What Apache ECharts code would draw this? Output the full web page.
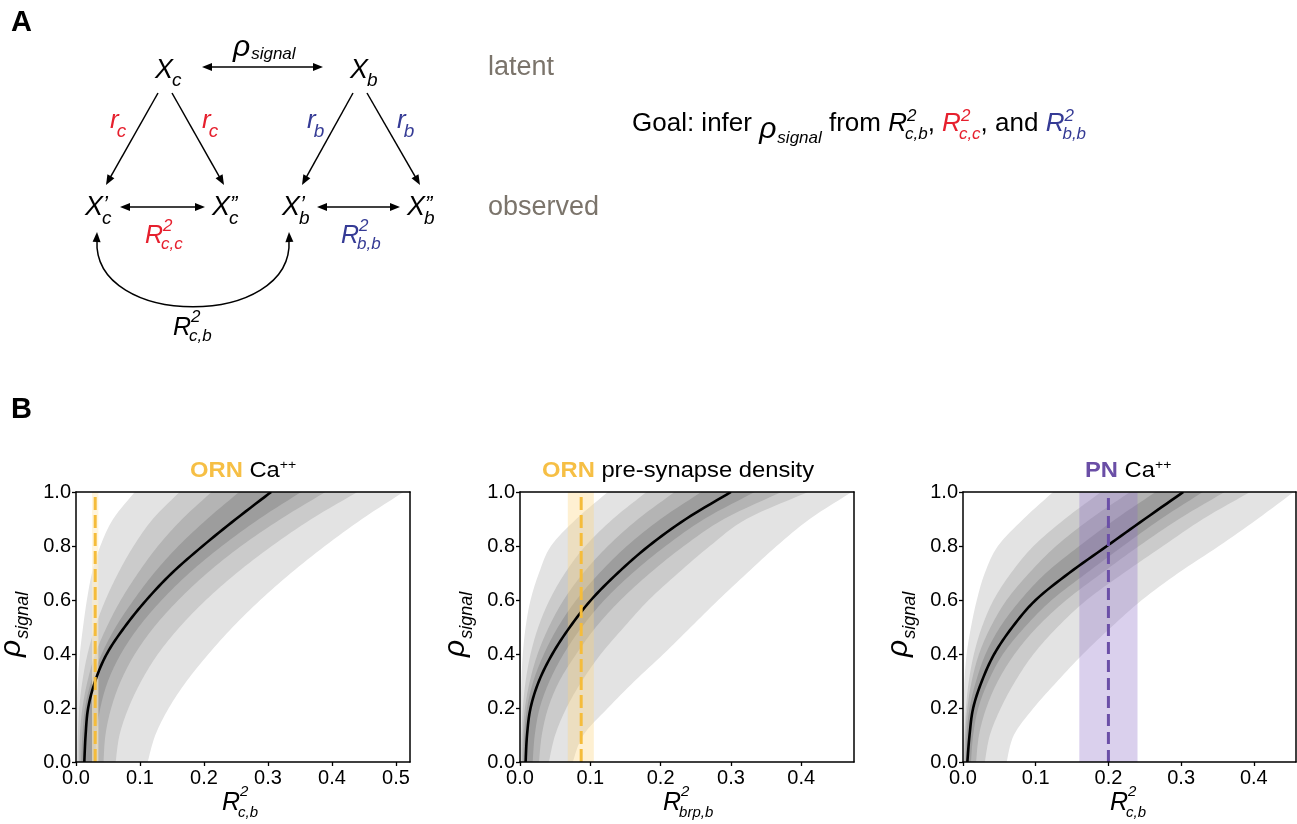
<!DOCTYPE html>
<html><head><meta charset="utf-8">
<script src="https://cdn.jsdelivr.net/npm/echarts@6/dist/echarts.min.js"></script>
<style>html,body{margin:0;padding:0;background:#fff}#c{width:1297px;height:824px}</style>
</head><body><div id="c"></div>
<script>
// ---------------- DATA ----------------
const RHO = [0, 0.1, 0.2, 0.3, 0.4, 0.5, 0.6, 0.7, 0.8, 0.9, 1.0];
const Y_TICKS = [0, 0.2, 0.4, 0.6, 0.8, 1.0];
const X_TICKS_1 = [0, 0.1, 0.2, 0.3, 0.4, 0.5];
const X_TICKS_2 = [0, 0.1, 0.2, 0.3, 0.4];
const X_TICKS_3 = [0, 0.1, 0.2, 0.3, 0.4];
const X_MAX = [0.522, 0.475, 0.458];
const TITLES_KEY = ['ORN', 'ORN', 'PN'];
const TITLES_REST = ['Ca', 'pre-synapse density', 'Ca'];
const X_SUBS = ['c,b', 'brp,b', 'c,b'];
// observed value (dashed line) and its range (shaded) per panel
const REF_VALUE = [0.030, 0.087, 0.200];
const REF_LOW = [0.025, 0.068, 0.160];
const REF_HIGH = [0.035, 0.105, 0.240];

// Panel 1: ORN Ca++  (band edges: 1 = outermost/lightest ... 4 = innermost/darkest)
const P1_L1 = [0, 0, 0.001, 0.003, 0.006, 0.011, 0.017, 0.025, 0.038, 0.058, 0.092];
const P1_L2 = [0.002, 0.003, 0.005, 0.010, 0.018, 0.030, 0.046, 0.066, 0.090, 0.120, 0.162];
const P1_L3 = [0.005, 0.006, 0.010, 0.018, 0.030, 0.048, 0.070, 0.097, 0.128, 0.166, 0.212];
const P1_L4 = [0.008, 0.010, 0.014, 0.024, 0.040, 0.062, 0.090, 0.122, 0.160, 0.205, 0.255];
const P1_MED = [0.013, 0.015, 0.019, 0.030, 0.048, 0.076, 0.110, 0.150, 0.198, 0.250, 0.305];
const P1_R4 = [0.030, 0.032, 0.038, 0.050, 0.070, 0.098, 0.134, 0.177, 0.228, 0.286, 0.352];
const P1_R3 = [0.043, 0.046, 0.055, 0.070, 0.092, 0.122, 0.160, 0.205, 0.258, 0.320, 0.390];
const P1_R2 = [0.062, 0.068, 0.082, 0.102, 0.128, 0.162, 0.203, 0.251, 0.306, 0.368, 0.440];
const P1_R1 = [0.112, 0.124, 0.145, 0.173, 0.207, 0.245, 0.288, 0.336, 0.389, 0.447, 0.512];

// Panel 2: ORN pre-synapse density
const P2_L1 = [0, 0, 0.001, 0.002, 0.004, 0.008, 0.015, 0.027, 0.044, 0.080, 0.125];
const P2_L2 = [0.001, 0.002, 0.004, 0.008, 0.015, 0.026, 0.042, 0.064, 0.093, 0.132, 0.180];
const P2_L3 = [0.003, 0.004, 0.007, 0.014, 0.025, 0.041, 0.062, 0.090, 0.125, 0.168, 0.220];
const P2_L4 = [0.005, 0.006, 0.010, 0.019, 0.034, 0.054, 0.080, 0.113, 0.152, 0.200, 0.258];
const P2_MED = [0.008, 0.010, 0.015, 0.027, 0.046, 0.071, 0.101, 0.139, 0.183, 0.236, 0.300];
const P2_R4 = [0.018, 0.021, 0.028, 0.042, 0.062, 0.088, 0.120, 0.160, 0.207, 0.262, 0.334];
const P2_R3 = [0.027, 0.031, 0.040, 0.056, 0.080, 0.108, 0.143, 0.185, 0.233, 0.290, 0.372];
const P2_R2 = [0.041, 0.050, 0.066, 0.088, 0.115, 0.148, 0.183, 0.225, 0.270, 0.322, 0.410];
const P2_R1 = [0.075, 0.090, 0.125, 0.163, 0.204, 0.243, 0.282, 0.323, 0.365, 0.412, 0.472];

// Panel 3: PN Ca++
const P3_L1 = [0, 0, 0.001, 0.002, 0.005, 0.011, 0.019, 0.030, 0.048, 0.083, 0.124];
const P3_L2 = [0.001, 0.002, 0.004, 0.008, 0.015, 0.026, 0.042, 0.066, 0.097, 0.140, 0.190];
const P3_L3 = [0.002, 0.003, 0.006, 0.012, 0.022, 0.038, 0.060, 0.091, 0.128, 0.175, 0.230];
const P3_L4 = [0.004, 0.005, 0.009, 0.018, 0.031, 0.051, 0.079, 0.114, 0.160, 0.210, 0.265];
const P3_MED = [0.006, 0.009, 0.014, 0.026, 0.043, 0.068, 0.100, 0.146, 0.198, 0.250, 0.303];
const P3_R4 = [0.011, 0.014, 0.021, 0.035, 0.055, 0.085, 0.122, 0.170, 0.220, 0.272, 0.330];
const P3_R3 = [0.018, 0.022, 0.032, 0.048, 0.071, 0.102, 0.142, 0.191, 0.242, 0.297, 0.360];
const P3_R2 = [0.030, 0.037, 0.052, 0.072, 0.097, 0.130, 0.170, 0.221, 0.275, 0.330, 0.395];
const P3_R1 = [0.060, 0.070, 0.097, 0.130, 0.165, 0.204, 0.246, 0.296, 0.352, 0.405, 0.455];

// ---------------- STYLE ----------------
const FONT = "'Liberation Sans', Arial, Helvetica, sans-serif";
const GRAYS = ['#e3e3e3', '#cbcbcb', '#b4b4b4', '#9d9d9d'];
const RED = '#e6202e', BLUE = '#353b95', GRAYTXT = '#7b746b';
const ORANGE = '#f6bf45', PURPLE = '#6a4ea6';
const KEY_COLORS = [ORANGE, ORANGE, PURPLE];
const DASH_COLORS = ['#f5bc3a', '#f5bc3a', '#6b4fa7'];
const DASH_PATTERNS = [[13, 5], [13, 5], [12, 6]];
const SHADE_COLORS = ['rgba(255,238,200,0.6)', 'rgba(252,212,125,0.35)', 'rgba(140,110,200,0.32)'];
const GRIDS = [
  {left: 76, top: 492, width: 334, height: 270},
  {left: 520, top: 492, width: 334, height: 270},
  {left: 963, top: 492, width: 333, height: 270}
];

const PANELS = [
  {L: [P1_L1, P1_L2, P1_L3, P1_L4], R: [P1_R1, P1_R2, P1_R3, P1_R4], M: P1_MED, ticks: X_TICKS_1},
  {L: [P2_L1, P2_L2, P2_L3, P2_L4], R: [P2_R1, P2_R2, P2_R3, P2_R4], M: P2_MED, ticks: X_TICKS_2},
  {L: [P3_L1, P3_L2, P3_L3, P3_L4], R: [P3_R1, P3_R2, P3_R3, P3_R4], M: P3_MED, ticks: X_TICKS_3}
];

// ---------------- HELPERS ----------------
const cv = document.createElement('canvas').getContext('2d');
function tw(t, s, i, b) { cv.font = (i ? 'italic ' : '') + (b ? 'bold ' : '') + s + 'px ' + FONT; return cv.measureText(t).width; }
function txt(x, base, t, s, o) {
  o = o || {};
  return {type: 'text', x: x, y: base - 0.35 * s, z: 100, scaleX: o.sx || 1, silent: true,
    style: {text: t, fontSize: s, fontFamily: FONT, fontStyle: o.i ? 'italic' : 'normal',
      fontWeight: o.b ? 'bold' : 'normal', fill: o.c || '#000', align: 'left', textAlign: 'left',
      verticalAlign: 'middle', textVerticalAlign: 'middle'}};
}
function run(x, base, toks) {
  const els = [];
  toks.forEach(k => {
    const xx = x + (k.dx || 0);
    els.push(txt(xx, base + (k.dy || 0), k.t, k.s, k));
    if (!k.na) x = xx + tw(k.t, k.s, k.i, k.b) * (k.sx || 1);
  });
  return els;
}
function head(tx, ty, fx, fy) {
  const a = Math.atan2(ty - fy, tx - fx), L = 10, W = 4;
  const bx = tx - L * Math.cos(a), by = ty - L * Math.sin(a);
  return {type: 'polygon', z: 100, silent: true,
    shape: {points: [[tx, ty], [bx - W * Math.sin(a), by + W * Math.cos(a)], [bx + W * Math.sin(a), by - W * Math.cos(a)]]},
    style: {fill: '#000'}};
}
function arrow(x1, y1, x2, y2, both) {
  const a = Math.atan2(y2 - y1, x2 - x1);
  const sx1 = both ? x1 + 5 * Math.cos(a) : x1, sy1 = both ? y1 + 5 * Math.sin(a) : y1;
  const els = [{type: 'line', z: 100, silent: true,
    shape: {x1: sx1, y1: sy1, x2: x2 - 5 * Math.cos(a), y2: y2 - 5 * Math.sin(a)},
    style: {stroke: '#000', lineWidth: 1.5}}];
  els.push(head(x2, y2, x1, y1));
  if (both) els.push(head(x1, y1, x2, y2));
  return els;
}
function Rsym(c, sub, sR, sS, dSup, dSub) {
  return [{t: 'R', s: sR, i: 1, c: c}, {t: '2', s: sS, i: 1, c: c, dy: dSup, na: 1, dx: 0},
          {t: sub, s: sS, i: 1, c: c, dy: dSub, dx: -2}];
}
// Catmull-Rom sampling of pixel points
function smooth(pts) {
  const out = [], n = 8;
  for (let i = 0; i < pts.length - 1; i++) {
    const p0 = pts[Math.max(i - 1, 0)], p1 = pts[i], p2 = pts[i + 1], p3 = pts[Math.min(i + 2, pts.length - 1)];
    for (let k = 0; k < n; k++) {
      const t = k / n, t2 = t * t, t3 = t2 * t;
      const f = d => 0.5 * (2 * p1[d] + (-p0[d] + p2[d]) * t + (2 * p0[d] - 5 * p1[d] + 4 * p2[d] - p3[d]) * t2 + (-p0[d] + 3 * p1[d] - 3 * p2[d] + p3[d]) * t3);
      out.push([f(0), f(1)]);
    }
  }
  out.push(pts[pts.length - 1]);
  return out;
}

// ---------------- GRAPHICS (panel A + labels) ----------------
let G = [];
G.push(txt(11, 33, 'A', 29, {b: 1}));
G.push(txt(11, 420, 'B', 29, {b: 1}));
// top row
G = G.concat(run(155, 80, [{t: 'X', s: 27, i: 1}, {t: 'c', s: 19, i: 1, dy: 7, dx: -1}]));
G = G.concat(run(233, 58, [{t: 'ρ', s: 30, i: 1}, {t: 'signal', s: 17, i: 1, dy: 2, dx: 1}]));
G = G.concat(arrow(202, 67, 323, 67, true));
G = G.concat(run(350, 80, [{t: 'X', s: 27, i: 1}, {t: 'b', s: 19, i: 1, dy: 7, dx: -1}]));
G.push(txt(488, 77, 'latent', 27, {c: GRAYTXT}));
// r labels
[[110, 'c', RED], [202, 'c', RED], [307, 'b', BLUE], [397, 'b', BLUE]].forEach(a => {
  G = G.concat(run(a[0], 130, [{t: 'r', s: 26, i: 1, c: a[2]}, {t: a[1], s: 19, i: 1, c: a[2], dy: 8, dx: -2}]));
});
G = G.concat(arrow(158, 93, 106, 185), arrow(172, 93, 224, 185), arrow(353, 93, 302, 185), arrow(367, 93, 420, 185));
// observed row
[[85, '’', 'c'], [212, '”', 'c'], [282, '’', 'b'], [407, '”', 'b']].forEach(a => {
  G = G.concat(run(a[0], 217, [{t: 'X', s: 27, i: 1}, {t: a[1], s: 22, i: 1, dy: -4, na: 1, dx: 0},
    {t: a[2], s: 19, i: 1, dy: 8, dx: -1}]));
});
G = G.concat(arrow(120, 207, 205, 207, true), arrow(317, 207, 400, 207, true));
G.push(txt(488, 217, 'observed', 27, {c: GRAYTXT}));
G = G.concat(run(145, 245, Rsym(RED, 'c,c', 25, 17, -13, 5)));
G = G.concat(run(341, 245, Rsym(BLUE, 'b,b', 25, 17, -13, 5)));
G.push({type: 'bezierCurve', z: 100, silent: true,
  shape: {x1: 97, y1: 240, x2: 289, y2: 240, cpx1: 92, cpy1: 329, cpx2: 294, cpy2: 329},
  style: {stroke: '#000', lineWidth: 1.5, fill: 'none'}});
G.push(head(97, 232, 96.5, 245), head(289, 232, 289.5, 245));
G = G.concat(run(173, 337, Rsym('#000', 'c,b', 25, 17, -14, 5)));
// goal sentence
G = G.concat(run(632, 133, [
  {t: 'Goal: infer ', s: 26}, {t: 'ρ', s: 30, i: 1, dy: 7}, {t: 'signal', s: 17, i: 1, dy: 11, dx: 1},
  {t: ' from ', s: 26}].concat(Rsym('#000', 'c,b', 26, 17, -11, 7), [{t: ', ', s: 26}],
  Rsym(RED, 'c,c', 26, 17, -11, 7), [{t: ', and ', s: 26}], Rsym(BLUE, 'b,b', 26, 17, -11, 7))));

// panel B titles & axis names
const TITLE_X = [190, 542, 1085];
const XNAME_X = [222, 663, 1110];
for (let i = 0; i < 3; i++) {
  const toks = [{t: TITLES_KEY[i], s: 22, b: 1, c: KEY_COLORS[i], sx: 1.08}, {t: ' ' + TITLES_REST[i], s: 22, sx: 1.08}];
  if (TITLES_REST[i] === 'Ca') toks.push({t: '++', s: 13, dy: -9, sx: 1.08});
  G = G.concat(run(TITLE_X[i], 479, toks));
  G = G.concat(run(XNAME_X[i], 812, Rsym('#000', X_SUBS[i], 25, 15, -15, 6)));
  G.push({type: 'group', x: GRIDS[i].left - 54, y: 657, rotation: Math.PI / 2,
    children: run(0, 0, [{t: 'ρ', s: 30, i: 1}, {t: 'signal', s: 18, i: 1, dy: 7, dx: 1}])});
}

// ---------------- CHART ----------------
const axisLine = {show: true, onZero: false, lineStyle: {color: '#000', width: 1.5}};
const lblStyle = {fontSize: 20, color: '#000', fontFamily: FONT};
const xAxis = [], yAxis = [], series = [];
PANELS.forEach((p, i) => {
  xAxis.push({type: 'value', gridIndex: i, min: 0, max: X_MAX[i], position: 'bottom', z: 10,
    axisLine: axisLine, splitLine: {show: false},
    axisTick: {show: true, length: 4, lineStyle: {color: '#000', width: 1.3}, customValues: p.ticks},
    axisLabel: Object.assign({customValues: p.ticks, margin: 6, formatter: v => v.toFixed(1)}, lblStyle)});
  xAxis.push({type: 'value', gridIndex: i, min: 0, max: X_MAX[i], position: 'top', z: 10,
    axisLine: axisLine, axisTick: {show: false}, axisLabel: {show: false}, splitLine: {show: false}});
  yAxis.push({type: 'value', gridIndex: i, min: 0, max: 1, position: 'left', z: 10,
    axisLine: axisLine, splitLine: {show: false},
    axisTick: {show: true, length: 4, lineStyle: {color: '#000', width: 1.3}, customValues: Y_TICKS},
    axisLabel: Object.assign({customValues: Y_TICKS, margin: 5, formatter: v => v.toFixed(1)}, lblStyle)});
  yAxis.push({type: 'value', gridIndex: i, min: 0, max: 1, position: 'right', z: 10,
    axisLine: axisLine, axisTick: {show: false}, axisLabel: {show: false}, splitLine: {show: false}});
  const xi = 2 * i, yi = 2 * i;
  series.push({type: 'custom', xAxisIndex: xi, yAxisIndex: yi, data: [[0, 0]], clip: true, silent: true, z: 2,
    renderItem: (params, api) => ({type: 'group', children: p.L.map((L, k) => {
      const left = smooth(RHO.map((r, j) => api.coord([L[j], r])));
      const right = smooth(RHO.map((r, j) => api.coord([p.R[k][j], r]))).reverse();
      return {type: 'polygon', shape: {points: left.concat(right)}, style: {fill: GRAYS[k]}};
    })})});
  series.push({type: 'custom', xAxisIndex: xi, yAxisIndex: yi, data: [[REF_LOW[i], REF_HIGH[i]]], clip: true, silent: true, z: 3,
    renderItem: (params, api) => {
      const a = api.coord([REF_LOW[i], 1]), b = api.coord([REF_HIGH[i], 0]);
      return {type: 'rect', shape: {x: a[0], y: a[1], width: b[0] - a[0], height: b[1] - a[1]}, style: {fill: SHADE_COLORS[i]}};
    }});
  series.push({type: 'custom', xAxisIndex: xi, yAxisIndex: yi, data: [[0, 0]], clip: true, silent: true, z: 4,
    renderItem: (params, api) => ({type: 'polyline',
      shape: {points: smooth(RHO.map((r, j) => api.coord([p.M[j], r])))},
      style: {stroke: '#000', lineWidth: 2.6, fill: null}})});
  series.push({type: 'line', xAxisIndex: xi, yAxisIndex: yi, z: 5, silent: true, symbol: 'none',
    data: [[REF_VALUE[i], 0], [REF_VALUE[i], 1]],
    lineStyle: {color: DASH_COLORS[i], width: 3, type: DASH_PATTERNS[i]}});
});

const chart = echarts.init(document.getElementById('c'), null, {renderer: 'canvas'});
chart.setOption({
  animation: false,
  backgroundColor: '#fff',
  grid: GRIDS.map(g => Object.assign({containLabel: false, outerBoundsMode: 'none'}, g)),
  xAxis: xAxis, yAxis: yAxis, series: series,
  graphic: {elements: G}
});
</script></body></html>
